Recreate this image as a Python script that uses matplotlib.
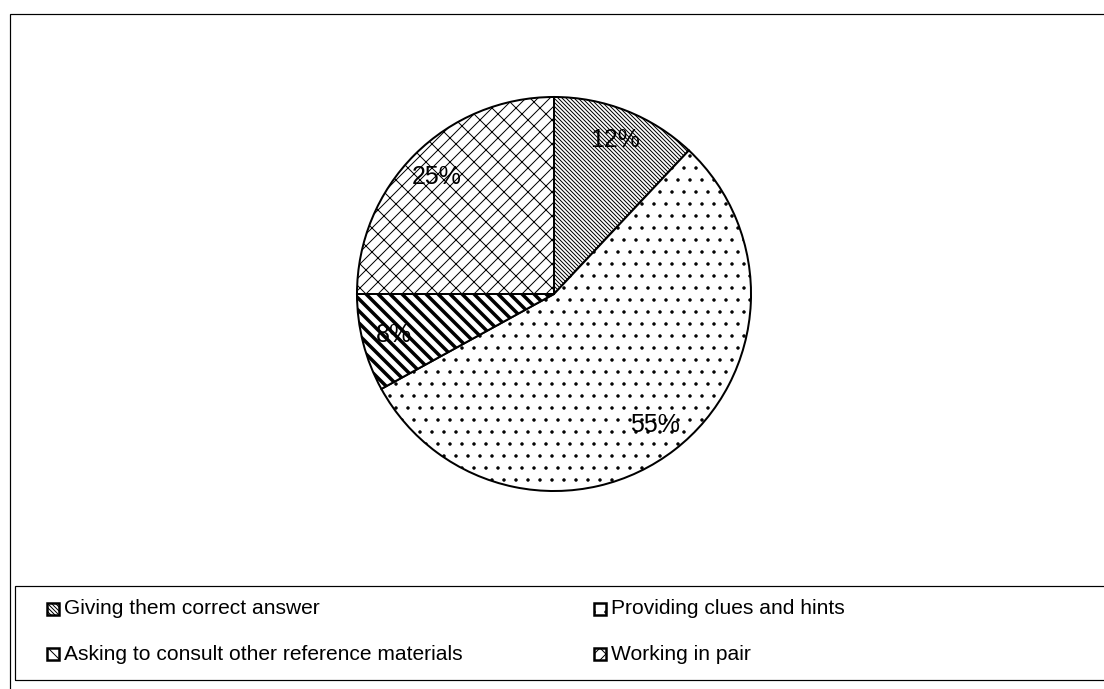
import matplotlib.pyplot as plt
from matplotlib.patches import Rectangle

# Response categories and their shares (percent)
labels = ['Giving them correct answer', 'Providing clues and hints',
          'Asking to consult other reference materials', 'Working in pair']
shares = [12, 55, 8, 25]
hatches = ['\\\\\\\\\\\\', '.', '\\\\', '/x']
hatch_widths = [1.0, 1.0, 3.5, 1.0]

W, H, DPI = 1104, 689, 72
plt.rcParams['font.family'] = ['Liberation Sans', 'DejaVu Sans']


def fx(x):
    return x / W


def fy(y):
    return 1 - y / H


fig = plt.figure(figsize=(W / DPI, H / DPI), dpi=DPI)

# outer frame of the chart area
fig.add_artist(Rectangle((fx(10), fy(700)), fx(1110) - fx(10), fy(14) - fy(700),
                         transform=fig.transFigure, fill=False,
                         edgecolor='black', linewidth=1.2))

# pie axes
cx, cy, r = 554, 294, 198
ax = fig.add_axes([fx(cx - r), fy(cy + r), 2 * r / W, 2 * r / H])
wedges, texts, autotexts = ax.pie(
    shares, startangle=90, counterclock=False, colors=['white'] * 4,
    wedgeprops=dict(edgecolor='black', linewidth=2),
    autopct='%.0f%%', pctdistance=0.84,
    textprops=dict(fontsize=25, color='black'))
for w, h, lw in zip(wedges, hatches, hatch_widths):
    w.set_hatch(h)
    if hasattr(w, 'set_hatch_linewidth'):
        w.set_hatch_linewidth(lw)
ax.set_xlim(-1.005, 1.005)
ax.set_ylim(-1.005, 1.005)
ax.set_aspect('equal')
ax.axis('off')

# legend box
fig.add_artist(Rectangle((fx(15), fy(680)), fx(1110) - fx(15), fy(586) - fy(680),
                         transform=fig.transFigure, fill=False,
                         edgecolor='black', linewidth=1.2))

slots = [(53, 609), (600, 609), (53, 654), (600, 654)]
for i, (x, y) in enumerate(slots):
    box = Rectangle((fx(x - 6), fy(y + 6)), 12 / W, 12 / H,
                    transform=fig.transFigure, facecolor='white',
                    edgecolor='black', linewidth=2.5, hatch=hatches[i])
    fig.add_artist(box)
    fig.text(fx(x + 11), fy(y), labels[i], fontsize=21, va='center', ha='left')

fig.savefig('out.png', dpi=DPI)
